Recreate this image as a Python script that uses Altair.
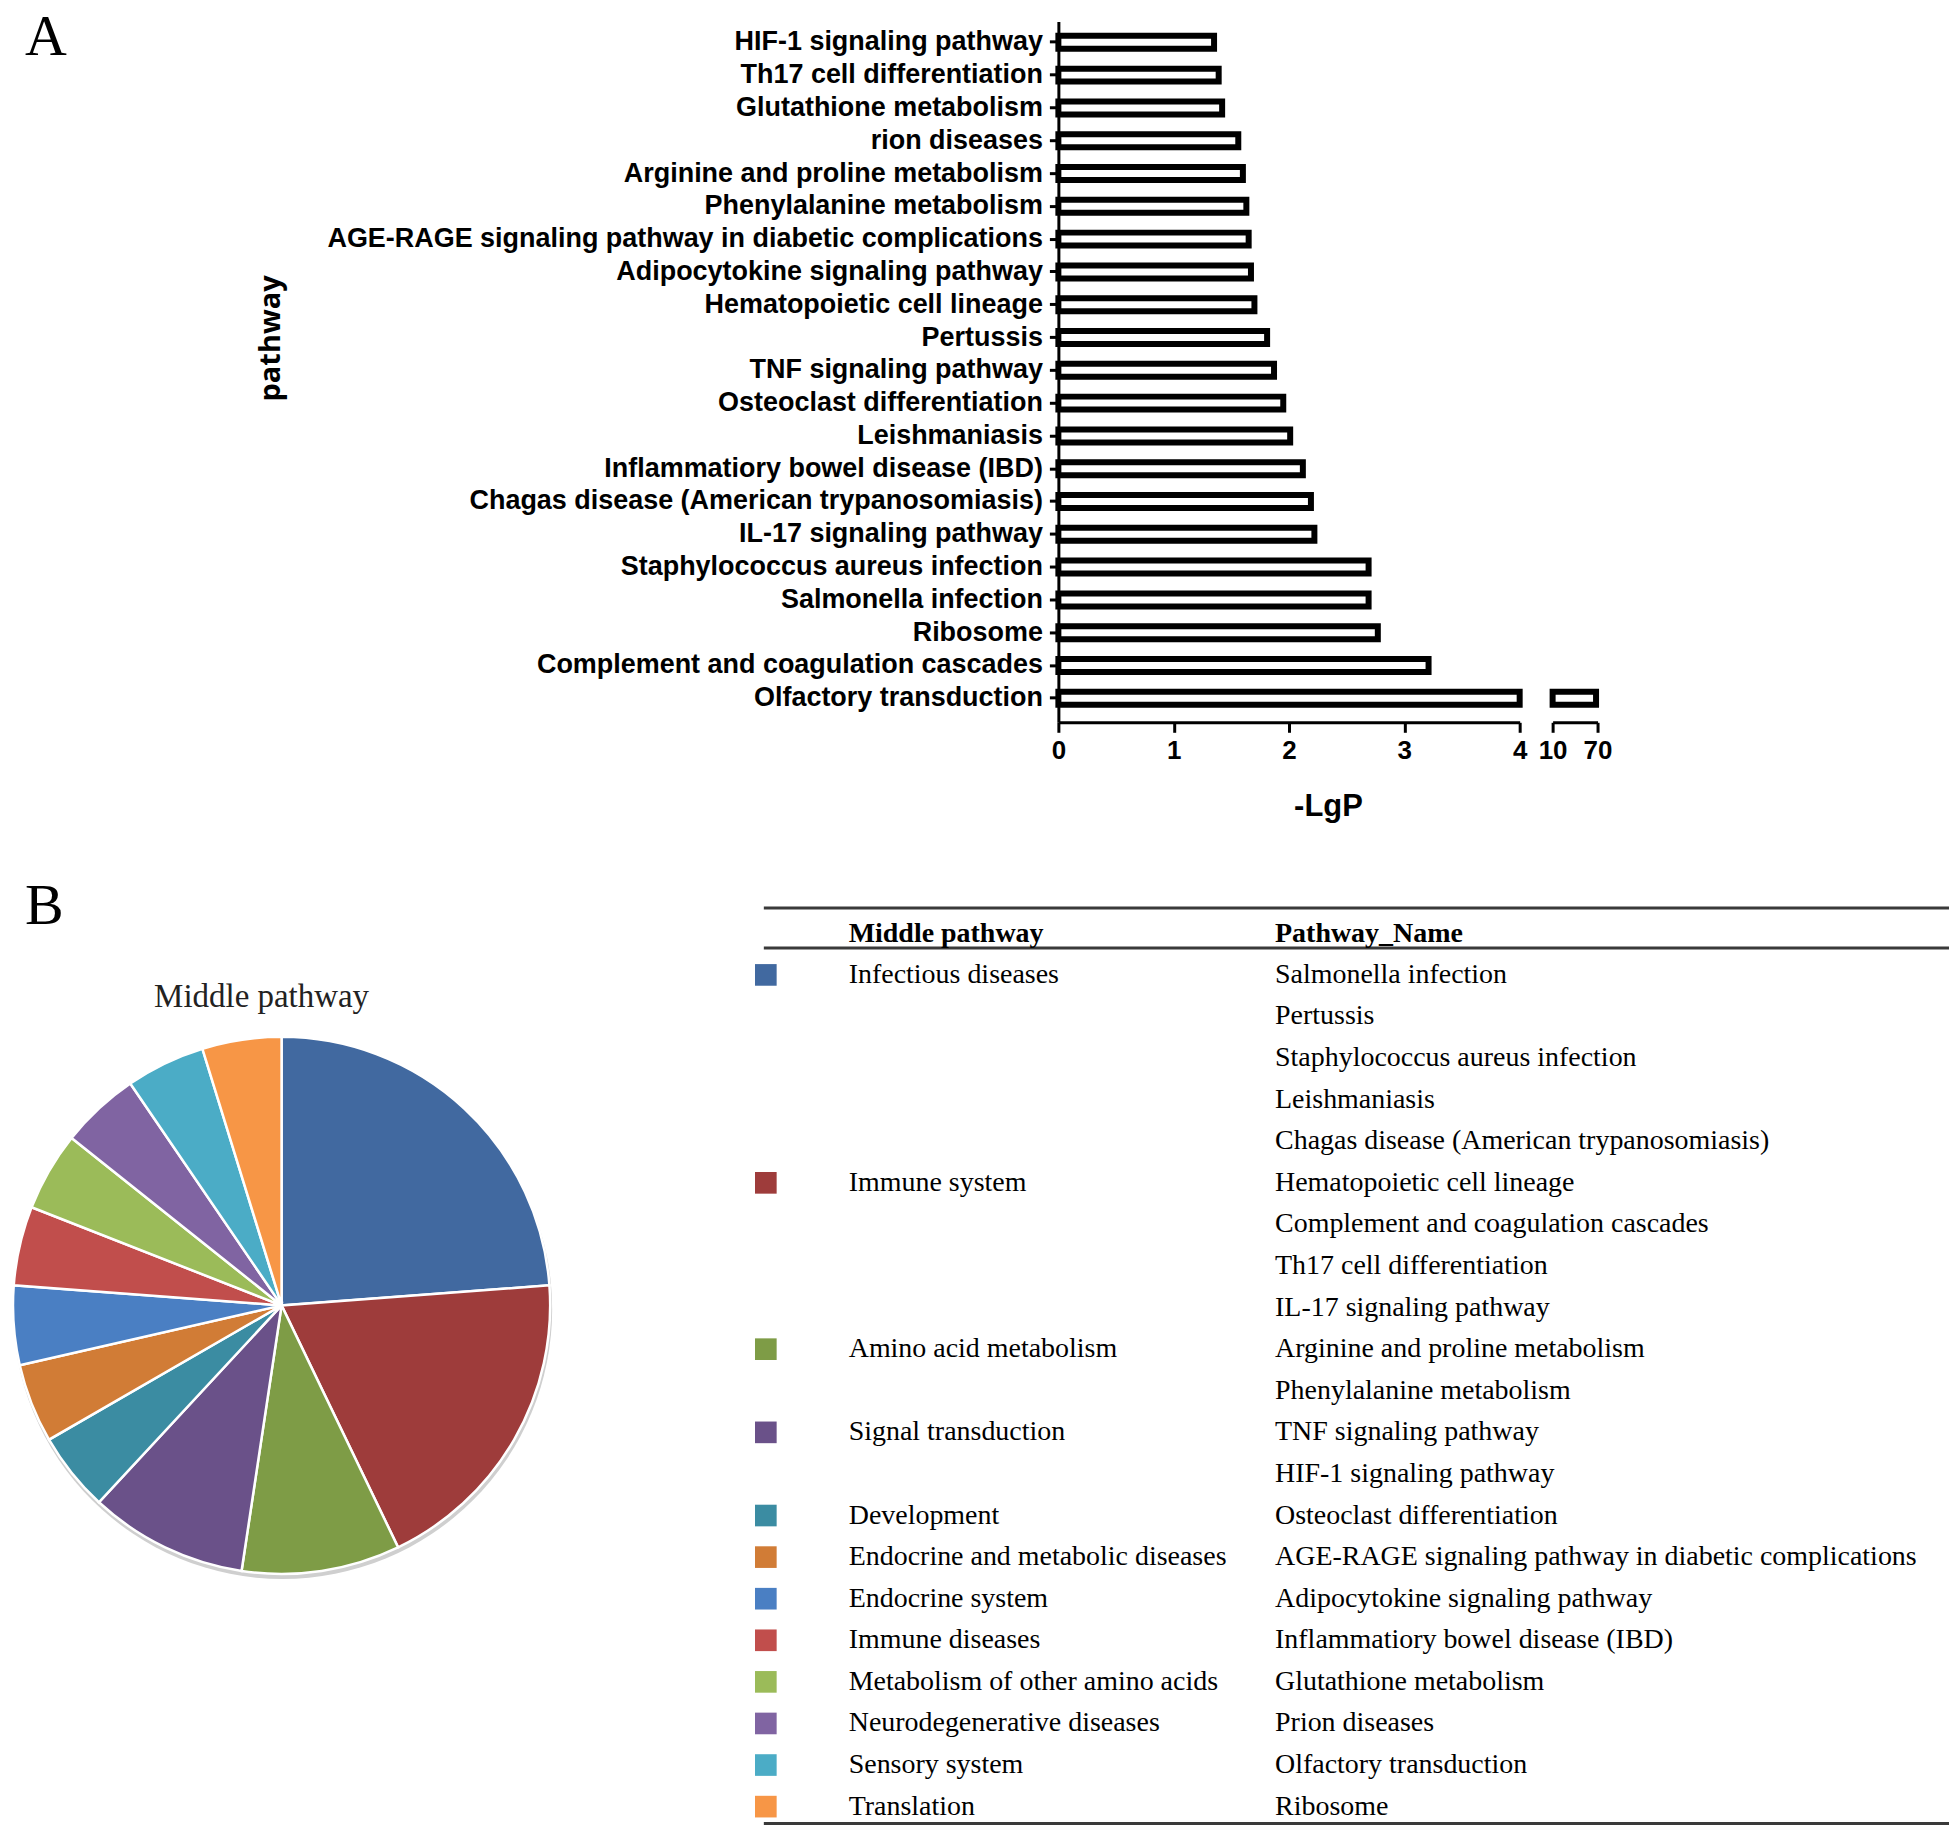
import math
import altair as alt
import pandas as pd

# ---------------- data ----------------
pathways = [
    "HIF-1 signaling pathway",
    "Th17 cell differentiation",
    "Glutathione metabolism",
    "rion diseases",
    "Arginine and proline metabolism",
    "Phenylalanine metabolism",
    "AGE-RAGE signaling pathway in diabetic complications",
    "Adipocytokine signaling pathway",
    "Hematopoietic cell lineage",
    "Pertussis",
    "TNF signaling pathway",
    "Osteoclast differentiation",
    "Leishmaniasis",
    "Inflammatiory bowel disease (IBD)",
    "Chagas disease (American trypanosomiasis)",
    "IL-17 signaling pathway",
    "Staphylococcus aureus infection",
    "Salmonella infection",
    "Ribosome",
    "Complement and coagulation cascades",
    "Olfactory transduction",
]
neg_log_p = [1.35, 1.39, 1.42, 1.56, 1.60, 1.63, 1.65, 1.67, 1.70, 1.81, 1.87,
             1.95, 2.01, 2.12, 2.19, 2.22, 2.69, 2.69, 2.77, 3.21, 68.0]
x_ticks_low = [0, 1, 2, 3, 4]
x_ticks_high = [10, 70]

middle = [
    "Infectious diseases", "Immune system", "Amino acid metabolism",
    "Signal transduction", "Development", "Endocrine and metabolic diseases",
    "Endocrine system", "Immune diseases", "Metabolism of other amino acids",
    "Neurodegenerative diseases", "Sensory system", "Translation",
]
middle_counts = [5, 4, 2, 2, 1, 1, 1, 1, 1, 1, 1, 1]
middle_colors = ["#4169A0", "#9E3C3B", "#7E9C46", "#6A5189", "#3B8CA2", "#D17C36",
                 "#4A7FC3", "#C14E4C", "#9BBB59", "#8064A2", "#4BACC6", "#F79646"]

table_middle = [
    "Infectious diseases", "", "", "", "",
    "Immune system", "", "", "",
    "Amino acid metabolism", "",
    "Signal transduction", "",
    "Development", "Endocrine and metabolic diseases", "Endocrine system",
    "Immune diseases", "Metabolism of other amino acids",
    "Neurodegenerative diseases", "Sensory system", "Translation",
]
table_names = [
    "Salmonella infection", "Pertussis", "Staphylococcus aureus infection",
    "Leishmaniasis", "Chagas disease (American trypanosomiasis)",
    "Hematopoietic cell lineage", "Complement and coagulation cascades",
    "Th17 cell differentiation", "IL-17 signaling pathway",
    "Arginine and proline metabolism", "Phenylalanine metabolism",
    "TNF signaling pathway", "HIF-1 signaling pathway",
    "Osteoclast differentiation",
    "AGE-RAGE signaling pathway in diabetic complications",
    "Adipocytokine signaling pathway", "Inflammatiory bowel disease (IBD)",
    "Glutathione metabolism", "Prion diseases", "Olfactory transduction",
    "Ribosome",
]

# ---------------- styles ----------------
SANS = "Liberation Sans"
SERIF = "Liberation Serif"
one = pd.DataFrame({"d": [0]})
color_scale = alt.Scale(domain=middle, range=middle_colors)

bar_df = pd.DataFrame({"pathway": pathways, "value": neg_log_p})

axis_common = dict(
    domainColor="black", domainWidth=3, tickColor="black", tickWidth=3,
    labelFont=SANS, labelFontWeight="bold", labelFontSize=26, labelColor="black",
    grid=False, orient="bottom", labelFlush=False,
)

y_enc = alt.Y(
    "pathway:N", sort=pathways,
    scale=alt.Scale(domain=pathways, paddingInner=0.6, paddingOuter=0.485, align=0.452),
    axis=alt.Axis(title="pathway", tickSize=9, labelPadding=7, labelLimit=2000,
                  domainColor="black", domainWidth=3, tickColor="black", tickWidth=3,
                  labelFont=SANS, labelFontWeight="bold", labelFontSize=27,
                  labelColor="black", grid=False,
                  titleFont="Open Sans", titleFontWeight="bold", titleFontSize=29,
                  titleColor="black", titleX=-789, titleY=317, titleBaseline="middle"),
)

# ---------------- panel A (broken x axis: two x scales side by side) ----------------
left_bars = alt.Chart(bar_df).transform_calculate(
    low="min(datum.value, 4)"
).mark_bar(fill="white", stroke="black", strokeWidth=6, size=13).encode(
    x=alt.X("low:Q", scale=alt.Scale(domain=[0, 4], nice=False, range=[0, 462]),
            axis=alt.Axis(values=x_ticks_low, title="-LgP", tickSize=10, labelPadding=5,
                          titleFont=SANS, titleFontWeight="bold", titleFontSize=31,
                          titleColor="black", titleX=270, titleY=84,
                          titleBaseline="middle", **axis_common)),
    y=y_enc,
)
right_bars = alt.Chart(bar_df).transform_filter("datum.value > 4").transform_calculate(
    start="10"
).mark_bar(fill="white", stroke="black", strokeWidth=6, size=13).encode(
    x=alt.X("start:Q",
            scale=alt.Scale(domain=[10, 70], nice=False, zero=False, range=[495, 540]),
            axis=alt.Axis(values=x_ticks_high, title=None, tickSize=10, labelPadding=5,
                          **axis_common)),
    x2="value:Q",
    y=y_enc,
)
label_a = alt.Chart(one).mark_text(
    text="A", font=SERIF, fontSize=58, align="left", baseline="alphabetic", color="black"
).encode(x=alt.value(-1035), y=alt.value(34))

top = alt.layer(left_bars, right_bars, label_a).resolve_scale(
    x="independent"
).properties(width=540, height=702)

# ---------------- panel B: pie + table in one layer ----------------
# (the vconcat aligns plot origins, so panel B is placed relative to panel A's axis)
pie_df = pd.DataFrame({"category": middle, "count": middle_counts,
                       "idx": list(range(len(middle)))})
PX = -778         # pie centre x
TX = -301         # left edge of table block
TAB_R = 892       # right end of table rules
DY = 3            # vertical offset of table block

shadow = alt.Chart(one).mark_arc(
    theta=0, theta2=2 * math.pi, radius=270, color="#cfcfcf"
).encode(x=alt.value(PX + 1), y=alt.value(432))
pie = alt.Chart(pie_df).mark_arc(radius=269, stroke="white", strokeWidth=2.5).encode(
    theta=alt.Theta("count:Q", stack=True),
    color=alt.Color("category:N", scale=color_scale, legend=None),
    order=alt.Order("idx:Q", sort="ascending"),
    x=alt.value(PX), y=alt.value(428),
)
pie_title = alt.Chart(one).mark_text(
    text="Middle pathway", font=SERIF, fontSize=33, align="center",
    baseline="middle", color="#222222"
).encode(x=alt.value(PX - 20), y=alt.value(119))
label_b = alt.Chart(one).mark_text(
    text="B", font=SERIF, fontSize=58, align="left", baseline="alphabetic", color="black"
).encode(x=alt.value(-1035), y=alt.value(46))

table_df = pd.DataFrame({
    "row": list(range(len(table_names))),
    "middle": table_middle,
    "name": table_names,
})
row_y = alt.Y("row:Q", scale=alt.Scale(domain=[0, 20], range=[94 + DY, 927 + DY]),
              axis=None)


def hline(ypos):
    return alt.Chart(one).mark_rule(color="#3a3a3a", strokeWidth=3).encode(
        x=alt.value(TX + 6), x2=alt.value(TAB_R), y=alt.value(ypos + DY))


squares = alt.Chart(table_df).transform_filter("datum.middle != ''").mark_square(
    size=470, opacity=1
).encode(
    x=alt.value(TX + 8), y=row_y,
    color=alt.Color("middle:N", scale=color_scale, legend=None),
)
mid_text = alt.Chart(table_df).mark_text(
    font=SERIF, fontSize=28, align="left", baseline="middle", color="black"
).encode(x=alt.value(TX + 91), y=row_y, text="middle:N")
name_text = alt.Chart(table_df).mark_text(
    font=SERIF, fontSize=28, align="left", baseline="middle", color="black"
).encode(x=alt.value(TX + 518), y=row_y, text="name:N")
head1 = alt.Chart(one).mark_text(
    text="Middle pathway", font=SERIF, fontSize=28, fontWeight="bold",
    align="left", baseline="middle", color="black"
).encode(x=alt.value(TX + 91), y=alt.value(53 + DY))
head2 = alt.Chart(one).mark_text(
    text="Pathway_Name", font=SERIF, fontSize=28, fontWeight="bold",
    align="left", baseline="middle", color="black"
).encode(x=alt.value(TX + 518), y=alt.value(53 + DY))

bottom = alt.layer(
    shadow, pie, pie_title, label_b,
    hline(27), hline(67), hline(944), squares, mid_text, name_text, head1, head2,
).properties(width=TAB_R, height=948)

chart = alt.vconcat(top, bottom, spacing=57).properties(
    padding=0, background="white"
).configure_view(stroke=None).configure_axis(grid=False)

chart.save("out.html", embed_options={"renderer": "svg", "actions": False})
